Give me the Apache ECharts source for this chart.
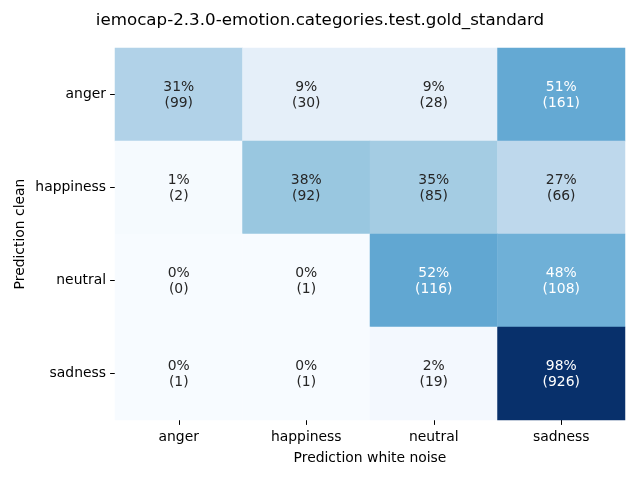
<!DOCTYPE html>
<html><head><meta charset="utf-8">
<script src="https://cdn.jsdelivr.net/npm/echarts@6/dist/echarts.min.js"></script>
<style>html,body{margin:0;padding:0;background:#fff}#c{width:640px;height:480px}</style>
</head><body><div id="c"></div>
<script>
const titleText = 'iemocap-2.3.0-emotion.categories.test.gold_standard';
const xCategories = ['anger', 'happiness', 'neutral', 'sadness'];
const yCategories = ['anger', 'happiness', 'neutral', 'sadness'];
const xName = 'Prediction white noise';
const yName = 'Prediction clean';
// row-wise percentages (rows = clean, columns = white noise)
const percents = [
  [31, 9, 9, 51],
  [1, 38, 35, 27],
  [0, 0, 52, 48],
  [0, 0, 2, 98]
];
const counts = [
  [99, 30, 28, 161],
  [2, 92, 85, 66],
  [0, 1, 116, 108],
  [1, 1, 19, 926]
];
const blues = ['#f7fbff','#deebf7','#c6dbef','#9ecae1','#6baed6','#4292c6','#2171b5','#08519c','#08306b'];
const FONT = 'DejaVu Sans';
const TXT = '#262626';

const data = [];
for (let r = 0; r < yCategories.length; r++) {
  for (let c = 0; c < xCategories.length; c++) {
    const p = percents[r][c];
    data.push({
      value: [c, r, p, counts[r][c]],
      label: { color: p > 45 ? '#ffffff' : TXT }
    });
  }
}

const chart = echarts.init(document.getElementById('c'), null, {renderer: 'canvas'});
chart.setOption({
  animation: false,
  backgroundColor: '#ffffff',
  title: {
    text: titleText, left: 'center', top: 7,
    textStyle: { fontFamily: FONT, fontSize: 16.7, fontWeight: 'normal', color: '#000' }
  },
  grid: { left: 115, right: 15, top: 48, bottom: 60 },
  xAxis: {
    type: 'category', data: xCategories,
    name: xName, nameLocation: 'middle', nameGap: 31,
    nameTextStyle: { fontFamily: FONT, fontSize: 13.9, color: '#000' },
    axisLine: { show: false },
    axisTick: { show: true, alignWithLabel: true, length: 4.9, lineStyle: { color: '#000', width: 1 } },
    axisLabel: { fontFamily: FONT, fontSize: 13.9, color: '#000', margin: 10 },
    splitLine: { show: false }
  },
  yAxis: {
    type: 'category', data: yCategories, inverse: true,
    name: yName, nameLocation: 'middle', nameGap: 88, nameMoveOverlap: false,
    nameTextStyle: { fontFamily: FONT, fontSize: 13.9, color: '#000' },
    axisLine: { show: false },
    axisTick: { show: true, alignWithLabel: true, length: 4.9, lineStyle: { color: '#000', width: 1 } },
    axisLabel: { fontFamily: FONT, fontSize: 13.9, color: '#000', margin: 9 },
    splitLine: { show: false }
  },
  visualMap: {
    show: false, min: 0, max: 98, dimension: 2,
    inRange: { color: blues }
  },
  series: [{
    type: 'heatmap',
    data: data,
    itemStyle: { borderWidth: 0 },
    emphasis: { disabled: true },
    label: {
      show: true,
      fontFamily: FONT, fontSize: 13.9, lineHeight: 16, offset: [0, 1],
      formatter: p => p.value[2] + '%\n(' + p.value[3] + ')'
    }
  }]
});
</script>
</body></html>
